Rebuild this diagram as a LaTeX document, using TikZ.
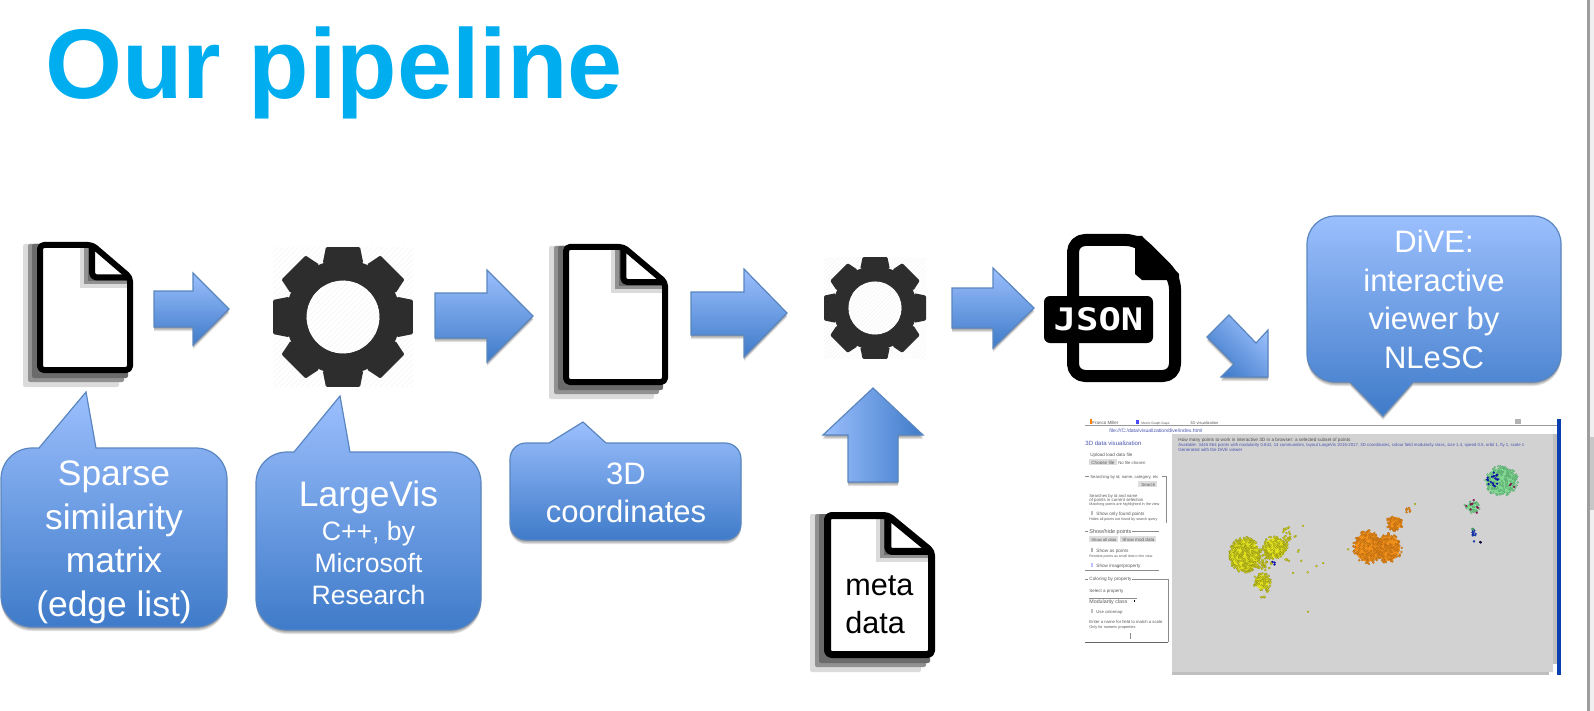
\documentclass[tikz,border=0pt]{standalone}
\usepackage{fontspec}
\setmainfont{Liberation Sans}
\newfontfamily\jsonfont[Scale=1]{DejaVu Sans Mono}
\usetikzlibrary{calc}
\definecolor{gtop}{HTML}{9BBFFD}
\definecolor{gbot}{HTML}{3F7BC9}
\definecolor{gline}{HTML}{5A86C0}
\definecolor{titleblue}{HTML}{00AEEF}
\definecolor{gearcol}{HTML}{2D2D2D}
\definecolor{canvasgrey}{HTML}{D2D2D2}
\definecolor{barblue}{HTML}{0A3FB0}
\definecolor{pantext}{HTML}{5A5A5A}
\definecolor{linktext}{HTML}{4A55B0}
\definecolor{ptyellow}{HTML}{E2E220}
\definecolor{ptyellowe}{HTML}{8A8A14}
\definecolor{ptorange}{HTML}{F0901A}
\definecolor{ptorangee}{HTML}{B06410}
\definecolor{ptgreen}{HTML}{84DA95}
\definecolor{ptgreene}{HTML}{4E9C64}
\definecolor{ptblue}{HTML}{1414C8}
\definecolor{ptbluee}{HTML}{0C0C90}
\definecolor{ptpurple}{HTML}{982060}
\definecolor{ptpurplee}{HTML}{701848}
\definecolor{ptsky}{HTML}{1A5CC8}
\tikzset{
  x=0.5pt,y=-0.5pt,
  vblock/.style={draw=gline,line width=0.6pt,line join=miter,top color=gtop,bottom color=gbot},
  hblock/.style={draw=gline,line width=0.6pt,line join=miter,left color=gtop,right color=gbot},
  dblock/.style={draw=gline,line width=0.6pt,line join=miter,top color=gtop,bottom color=gbot,shading angle=-45},
  softshadow/.style={fill=black,draw=none,opacity=0.11},
  calltext/.style={text=white,align=center,inner sep=0pt},
  big/.style={font=\fontsize{17.7pt}{21.8pt}\selectfont},
  mid/.style={font=\fontsize{15.5pt}{19.2pt}\selectfont},
  panelline/.style={draw=#1,line width=0.35pt},
  panelline/.default={black!45},
  tinybox/.style={fill=black!13,draw=none},
}
\newcommand{\gblock}[2]{%
  \foreach \sh in {1,2,3,4}{\path[softshadow,shift={(0,\sh)}] #2;}
  \path[#1] #2;}
% rounded rectangle path with insertions in its top and bottom edges
\newcommand{\rrpath}[7]{%
  \pgfmathsetmacro\rA{#5}\pgfmathsetmacro\kA{0.4477*#5}%
  \pgfmathsetmacro\xa{#1+\rA}\pgfmathsetmacro\xb{#3-\rA}%
  \pgfmathsetmacro\ya{#2+\rA}\pgfmathsetmacro\yb{#4-\rA}%
  \pgfmathsetmacro\xc{#1+\kA}\pgfmathsetmacro\xd{#3-\kA}%
  \pgfmathsetmacro\yc{#2+\kA}\pgfmathsetmacro\yd{#4-\kA}%
  \edef\thepath{(\xa,#2) #6 -- (\xb,#2) .. controls (\xd,#2) and (#3,\yc) .. (#3,\ya)
    -- (#3,\yb) .. controls (#3,\yd) and (\xd,#4) .. (\xb,#4) #7 -- (\xa,#4)
    .. controls (\xc,#4) and (#1,\yd) .. (#1,\yb) -- (#1,\ya) .. controls (#1,\yc) and (\xc,#2) .. (\xa,#2) -- cycle}%
}
\newcommand{\callout}[7]{\rrpath{#1}{#2}{#3}{#4}{#5}{#6}{#7}\gblock{vblock}{\thepath}}
% file icon
\newcommand{\docshadow}[8]{% x0 y1 fx y0 fy x1 : offset / colour
  \fill[#8,rounded corners=1pt] (#1-#7,#4+2) -- (#3-#7,#4+2) -- (#6-#7,#5+2) -- (#6-#7,#2+#7) -- (#1-#7,#2+#7) -- cycle;}
\newcommand{\docicon}[5]{%
  \pgfmathsetmacro\dW{#3-#1}\pgfmathsetmacro\dH{#4-#2}%
  \pgfmathsetmacro\fx{#1+0.575*\dW}\pgfmathsetmacro\fy{#2+0.27*\dH}%
  \pgfmathsetmacro\lh{0.5*#5}\pgfmathsetmacro\lw{0.5*#5}%
  \pgfmathsetmacro\xl{#1+\lh}\pgfmathsetmacro\xr{#3-\lh}\pgfmathsetmacro\yt{#2+\lh}\pgfmathsetmacro\yq{#4-\lh}%
  \docshadow{#1}{#4}{\fx}{#2}{\fy}{#3}{14}{black!14}
  \docshadow{#1}{#4}{\fx}{#2}{\fy}{#3}{9}{black!43}
  \docshadow{#1}{#4}{\fx}{#2}{\fy}{#3}{5}{black!58}
  \fill[white] (\xl,\yt) -- (\fx,\yt) -- (\xr,\fy) -- (\xr,\yq) -- (\xl,\yq) -- cycle;
  \begin{scope}
    \clip (\xl,\yt) -- (\fx,\yt) -- (\xr,\fy) -- (\xr,\yq) -- (\xl,\yq) -- cycle;
    \fill[black!14] (\fx-12,\yt) rectangle (\xr-1,\fy+11);
    \fill[black!43] (\fx-8,\yt) rectangle (\xr-1,\fy+7);
    \fill[black!58] (\fx-4,\yt) rectangle (\xr-1,\fy+4);
  \end{scope}
  \fill[white] (\fx,\yt) -- (\xr,\fy) -- (\fx,\fy) -- cycle;
  \draw[black,line width=\lw pt,rounded corners=2pt,line join=round]
    (\xl,\yt) -- (\fx,\yt) -- (\xr,\fy) -- (\xr,\yq) -- (\xl,\yq) -- cycle;
  \draw[black,line width=\lw pt,rounded corners=2pt,line join=round] (\fx,\yt) -- (\fx,\fy) -- (\xr,\fy);
}
% gear icon
\newcommand{\gearhatch}[3]{%
  \foreach \hh in {-40,-38.5,...,40}{
    \draw[black!4,line width=0.25pt] ({#1-#3+\hh*#3/20},{#2+#3}) -- ++({2*#3},{-2*#3});}}
\newcommand{\gearicon}[3]{%
  \begin{scope}
    \clip (#1-#3,#2-#3) rectangle (#1+#3,#2+#3);
    \gearhatch{#1}{#2}{#3}
  \end{scope}
  \fill[gearcol] (#1,#2) circle[radius=0.82*#3];
  \foreach \a in {0,45,...,315}{
    \fill[gearcol,rounded corners=0.6pt]
      ($(#1,#2)+(\a-20.6:0.823*#3)$) -- ($(#1,#2)+(\a-13.66:1.029*#3)$) --
      ($(#1,#2)+(\a+13.66:1.029*#3)$) -- ($(#1,#2)+(\a+20.6:0.823*#3)$) -- cycle;}
  \fill[white] (#1,#2) circle[radius=0.52*#3];
  \begin{scope}
    \clip (#1,#2) circle[radius=0.52*#3];
    \gearhatch{#1}{#2}{#3}
  \end{scope}
}
% small printed text of the screenshot, fitted to a width
\newcount\tcnt
\newcommand{\stxt}[5]{%
  \global\advance\tcnt by 1
  \pgfmathsetmacro\twd{0.5*#3}%
  \node[anchor=base west,inner sep=0pt,text=#4] (t\the\tcnt) at (#1,#2)
    {\resizebox{\twd pt}{!}{\fontsize{5pt}{6pt}\selectfont #5}};}
\newcommand{\cluster}[7]{%
  \foreach \i in {1,...,#5}{
    \pgfmathsetmacro\ra{rnd*360}\pgfmathsetmacro\rb{sqrt(rnd)}
    \path[fill=#6,draw=#7,line width=0.1pt] ({#1+#3*\rb*cos(\ra)},{#2+#4*\rb*sin(\ra)}) circle[radius=1.05];}}
\newcommand{\blob}[5]{\fill[#5] (#1,#2) ellipse[x radius=#3,y radius=#4];}
\begin{document}
\begin{tikzpicture}
\useasboundingbox (0,0) rectangle (1594,711);
\fill[white] (0,0) rectangle (1594,711);
\pgfmathsetseed{17}

% window edge at the far right
\fill[black!38] (1587,0) rectangle (1590,711);
\fill[black!6] (1590,0) rectangle (1594,711);
\fill[black!22] (1590,437) rectangle (1594,510);

% title
\node[anchor=base west,inner sep=0pt,text=titleblue,font=\fontsize{49.5pt}{55pt}\selectfont\bfseries] (title) at (45,99) {Our pipeline};

% ---------- file icons
\docicon{37}{242}{133}{373}{6}
\docicon{563}{244}{668}{385}{6}
\docicon{824}{512}{935}{658}{7}
\node[anchor=base west,inner sep=0pt,align=left,font=\fontsize{15.3pt}{19pt}\selectfont] (meta) at (845,595) {meta};
\node[anchor=base west,inner sep=0pt,align=left,font=\fontsize{15.3pt}{19pt}\selectfont] (data) at (845,633) {data};

% ---------- gears
\gearicon{343}{317}{70}
\gearicon{875}{308}{51}

% ---------- block arrows
\gblock{vblock}{(154,291) -- (193,291) -- (193,273) -- (229,309) -- (193,345) -- (193,327) -- (154,327) -- cycle}
\gblock{vblock}{(435,293) -- (487,293) -- (487,270) -- (533,316) -- (487,362) -- (487,338) -- (435,338) -- cycle}
\gblock{vblock}{(691,292) -- (744,292) -- (744,269) -- (787,313) -- (744,357) -- (744,335) -- (691,335) -- cycle}
\gblock{vblock}{(952,288) -- (993,288) -- (993,268) -- (1034,308) -- (993,348) -- (993,328) -- (952,328) -- cycle}
\gblock{hblock}{(873,388) -- (923,435) -- (898,435) -- (898,482) -- (848,482) -- (848,435) -- (823,435) -- cycle}
\gblock{dblock}{(1207,337) -- (1229,315) -- (1256,343) -- (1268,330) -- (1268,377) -- (1221,377) -- (1234,364) -- cycle}

% ---------- JSON file
\draw[black,line width=6pt,line join=round,rounded corners=6pt]
  (1073,240) -- (1138,240) -- (1175,277) -- (1175,376) -- (1073,376) -- cycle;
\fill[black] (1135,236) -- (1142,236) -- (1179,274) -- (1179,280) -- (1142,280) -- (1135,274) -- cycle;
\fill[black,rounded corners=3pt] (1044,296) rectangle (1153,343);
\node[xscale=1.2,transform shape,text=white,inner sep=0pt,font=\fontsize{15.5pt}{18pt}\selectfont\jsonfont\bfseries] (json) at (1098.5,319.5) {JSON};

% ---------- callouts
\callout{1}{448}{227}{627}{31}{-- (39,448) -- (86,392) -- (96,448)}{}
\node[calltext,big] (c1) at (114,542.5) {Sparse\\similarity\\matrix\\(edge list)};
\callout{256}{452}{481}{630}{31}{-- (294,452) -- (340,396) -- (350,452)}{}
\node[calltext,font=\fontsize{13.3pt}{16pt}\selectfont] (c2) at (368.5,542.5) {{\fontsize{17.7pt}{16pt}\selectfont LargeVis}\\[1pt]C++, by\\Microsoft\\Research};
\callout{510}{443}{741}{540}{16}{-- (549,443) -- (583,422) -- (606,443)}{}
\node[calltext,mid] (c3) at (626,493) {3D\\coordinates};
\callout{1307}{216}{1561}{382}{28}{}{-- (1413,382) -- (1383,416) -- (1350,382)}
\node[calltext,mid] (c4) at (1434,299.5) {DiVE:\\interactive\\viewer by\\NLeSC};

% ---------- screenshot of the viewer
\fill[canvasgrey] (1172,434) rectangle (1553,672);
\fill[black!25] (1553,434) rectangle (1557,664);
\fill[black!25] (1172,672) rectangle (1549,675);
\fill[barblue] (1557,419) rectangle (1561,675);
\draw[panelline=black!40] (1085,425) -- (1557,425);
\fill[black!30] (1515,419) rectangle (1521,424);
\stxt{1092}{424}{26}{pantext}{Franco Miller}
\fill[orange] (1090,419) rectangle (1092,424);
\fill[blue!70] (1136,420) rectangle (1139,424);
\stxt{1141}{424}{28}{pantext}{Metric Graph Gaps}
\stxt{1190}{424}{28}{pantext}{3D visualization}
\stxt{1109}{432}{93}{linktext}{file:///C:/data/visualization/dive/index.html}

\stxt{1085}{445}{56}{linktext}{3D data visualization}
\stxt{1090}{456}{42}{pantext}{Upload load data file}
\fill[tinybox] (1089,459) rectangle (1117,465);
\stxt{1091}{464}{23}{pantext}{Choose file}
\stxt{1118}{464}{27}{pantext}{No file chosen}
\draw[panelline] (1085,476) -- (1089,476);
\stxt{1090}{478}{68}{pantext}{Searching by id, name, category, etc}
\draw[panelline] (1162,476) -- (1166,476) -- (1166,523);
\fill[tinybox] (1138,481) rectangle (1157,487);
\stxt{1141}{486}{14}{pantext}{Search}
\stxt{1089}{497}{48}{pantext}{Searches by id and name}
\stxt{1089}{501}{54}{pantext}{of points in current selection}
\stxt{1089}{505}{70}{pantext}{Matching points are highlighted in the view}
\fill[black!25] (1091,511) rectangle (1093,515);
\stxt{1096}{515}{48}{pantext}{Show only found points}
\stxt{1089}{520}{68}{pantext}{Hides all points not found by search query}
\draw[panelline] (1085,531) -- (1088,531);
\stxt{1089}{533}{42}{pantext}{Show/hide points}
\draw[panelline] (1132,531) -- (1159,531);
\fill[tinybox] (1089,536) rectangle (1118,542);
\stxt{1091}{541}{25}{pantext}{Show all data}
\fill[tinybox] (1120,536) rectangle (1156,542);
\stxt{1122}{541}{32}{pantext}{Show mod data}
\fill[black!30] (1091,548) rectangle (1093,552);
\stxt{1096}{552}{32}{pantext}{Show as points}
\stxt{1089}{557}{63}{pantext}{Renders points as small dots in the view}
\fill[blue!25] (1091,563) rectangle (1093,567);
\stxt{1096}{567}{44}{pantext}{Show image/property}
\draw[panelline] (1085,570) -- (1159,570);
\draw[panelline] (1085,579) -- (1088,579);
\stxt{1089}{580}{42}{pantext}{Coloring by property}
\draw[panelline] (1132,579) -- (1168,579) -- (1168,642);
\draw[panelline=black!60] (1168,642) -- (1085,642);
\stxt{1089}{592}{34}{pantext}{Select a property}
\draw[panelline] (1089,598) -- (1137,598);
\stxt{1089}{603}{38}{pantext}{Modularity class}
\fill[black] (1134,600) rectangle (1135,602);
\fill[black!25] (1091,609) rectangle (1093,613);
\stxt{1096}{613}{26}{pantext}{Use colormap}
\stxt{1089}{623}{73}{pantext}{Enter a name for field to match a scale}
\stxt{1089}{628}{46}{pantext}{Only for numeric properties}
\draw[panelline] (1130,633) -- (1130,639);

\stxt{1178}{441}{172}{black!70}{How many points to work in interactive 3D in a browser: a selected subset of points}
\stxt{1178}{446}{346}{linktext}{Available: 3445 864 points with modularity 0.842, 14 communities, layout LargeVis 2016-2017, 3D coordinates, colour field modularity class, size 1.4, speed 0.5, orbit 1, fly 1, scale 1}
\stxt{1178}{451}{64}{linktext}{Generated with the DiVE viewer}

% point clouds
\blob{1245}{555}{14}{16}{ptyellow}
\blob{1275}{548}{11}{10}{ptyellow}
\blob{1262}{582}{7}{7}{ptyellow}
\blob{1368}{547}{13}{15}{ptorange}
\blob{1388}{548}{12}{13}{ptorange}
\blob{1395}{523}{7}{6}{ptorange}
\blob{1501}{481}{15}{13}{ptgreen}
\blob{1472}{507}{6}{4}{ptgreen}
\cluster{1245}{555}{16}{18}{260}{ptyellow}{ptyellowe}
\cluster{1262}{560}{11}{11}{70}{ptyellow}{ptyellowe}
\cluster{1275}{548}{13}{12}{110}{ptyellow}{ptyellowe}
\cluster{1287}{535}{4}{9}{26}{ptyellow}{ptyellowe}
\cluster{1262}{582}{9}{9}{70}{ptyellow}{ptyellowe}
\cluster{1263}{598}{2}{2}{5}{ptyellow}{ptyellowe}
\cluster{1268}{590}{2}{2}{3}{ptyellow}{ptyellowe}
\cluster{1308}{611}{1}{1}{1}{ptyellow}{ptyellowe}
\cluster{1308}{572}{1}{1}{1}{ptyellow}{ptyellowe}
\cluster{1323}{563}{1}{1}{1}{ptyellow}{ptyellowe}
\cluster{1316}{567}{1}{1}{1}{ptyellow}{ptyellowe}
\cluster{1301}{561}{1}{1}{1}{ptyellow}{ptyellowe}
\cluster{1303}{526}{1}{1}{1}{ptyellow}{ptyellowe}
\cluster{1298}{551}{2}{1}{2}{ptyellow}{ptyellowe}
\cluster{1295}{536}{2}{1}{2}{ptyellow}{ptyellowe}
\cluster{1293}{572}{1}{1}{1}{ptyellow}{ptyellowe}
\cluster{1288}{560}{3}{2}{4}{ptyellow}{ptyellowe}
\cluster{1348}{549}{1}{1}{1}{ptyellow}{ptyellowe}
\cluster{1414}{504}{1}{1}{1}{ptyellow}{ptyellowe}
\cluster{1275}{563}{3}{2}{3}{ptblue}{ptbluee}
\cluster{1368}{547}{15}{17}{170}{ptorange}{ptorangee}
\cluster{1388}{548}{14}{15}{150}{ptorange}{ptorangee}
\cluster{1395}{523}{9}{8}{55}{ptorange}{ptorangee}
\cluster{1408}{510}{3}{3}{8}{ptorange}{ptorangee}
\cluster{1501}{481}{17}{15}{170}{ptgreen}{ptgreene}
\cluster{1493}{479}{8}{8}{18}{ptblue}{ptbluee}
\cluster{1514}{484}{5}{5}{3}{ptpurple}{ptpurplee}
\cluster{1472}{507}{8}{6}{30}{ptgreen}{ptgreene}
\cluster{1473}{507}{8}{7}{9}{ptpurple}{ptpurplee}
\cluster{1474}{535}{2}{7}{12}{ptsky}{ptbluee}
\cluster{1473}{530}{1}{2}{2}{ptgreene}{ptgreene}
\cluster{1480}{543}{1}{1}{2}{ptbluee}{black}
\end{tikzpicture}
\end{document}
